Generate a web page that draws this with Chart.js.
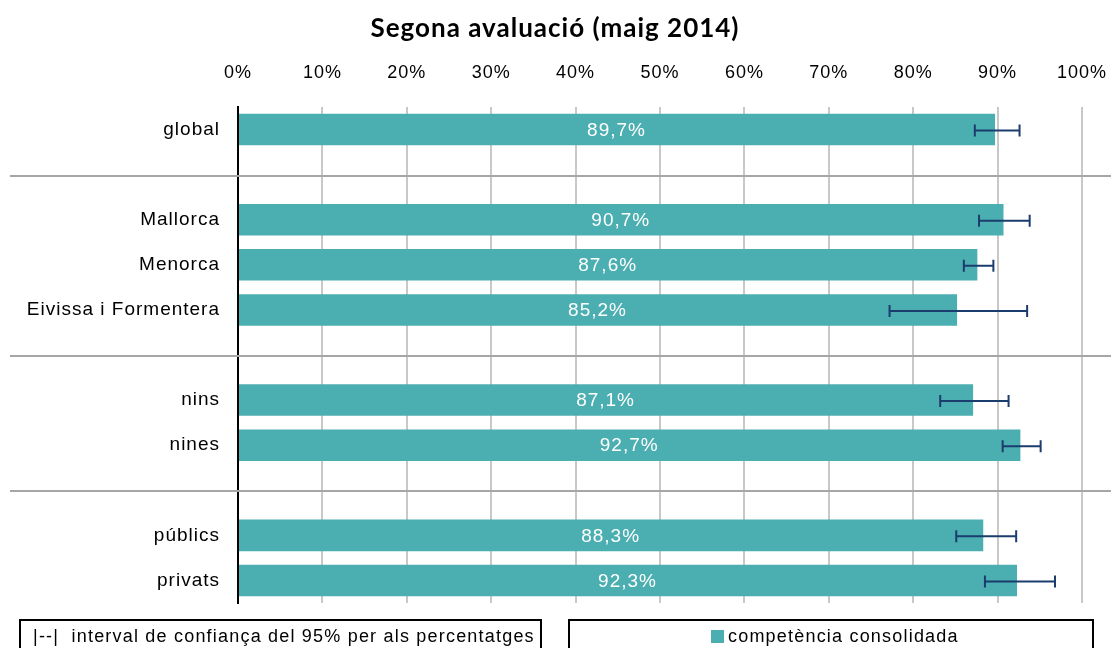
<!DOCTYPE html>
<html><head><meta charset="utf-8">
<script src="https://cdn.jsdelivr.net/npm/chart.js@4/dist/chart.umd.min.js"></script>
<style>html,body{margin:0;padding:0;background:#fff;} canvas{display:block;}</style>
</head><body>
<canvas id="c" width="1113" height="648"></canvas>
<script>
const titleText = 'Segona avaluació (maig 2014)';
const categories = ['global', '', 'Mallorca', 'Menorca', 'Eivissa i Formentera', '', 'nins', 'nines', '', 'públics', 'privats'];
const values = [89.7, null, 90.7, 87.6, 85.2, null, 87.1, 92.7, null, 88.3, 92.3];
const ciLow  = [87.3, null, 87.8, 86.0, 77.2, null, 83.2, 90.6, null, 85.1, 88.5];
const ciHigh = [92.6, null, 93.8, 89.5, 93.5, null, 91.3, 95.1, null, 92.2, 96.8];
const seriesName = 'competència consolidada';
const ciLegend = '|--|  interval de confiança del 95% per als percentatges';

const BAR = '#4BAEB0';
const ERR = '#1B3D6E';
const FONT = '"Liberation Sans", Arial, sans-serif';

const fmt = v => v.toFixed(1).replace('.', ',') + '%';

const spacing = {
  id: 'spacing',
  beforeUpdate(chart) { chart.ctx.letterSpacing = '1px'; },
  beforeDraw(chart) { chart.ctx.letterSpacing = '1px'; }
};

const extras = {
  id: 'extras',
  afterDatasetsDraw(chart) {
    const ctx = chart.ctx;
    const xs = chart.scales.x, ys = chart.scales.y;
    ctx.save();
    ctx.letterSpacing = '1px';
    // title
    ctx.fillStyle = '#000';
    ctx.font = 'bold 26px Lato, "Open Sans", sans-serif';
    ctx.textAlign = 'center';
    ctx.textBaseline = 'middle';
    ctx.fillText(titleText, 555, 29);
    // separators between groups
    ctx.strokeStyle = '#A6A6A6';
    ctx.lineWidth = 2;
    categories.forEach((c, i) => {
      if (c === '') {
        const y = Math.round(ys.getPixelForValue(i)) + 1;
        ctx.beginPath(); ctx.moveTo(10, y); ctx.lineTo(1111, y); ctx.stroke();
      }
    });
    // value labels
    ctx.fillStyle = '#FFFFFF';
    ctx.font = '19px ' + FONT;
    ctx.textAlign = 'center';
    ctx.textBaseline = 'middle';
    values.forEach((v, i) => {
      if (v == null) return;
      const x0 = xs.getPixelForValue(0), x1 = xs.getPixelForValue(v);
      ctx.fillText(fmt(v), (x0 + x1) / 2, ys.getPixelForValue(i) + 1);
    });
    // error bars
    ctx.strokeStyle = ERR;
    ctx.lineWidth = 2;
    values.forEach((v, i) => {
      if (v == null) return;
      const y = ys.getPixelForValue(i) + 1;
      const a = xs.getPixelForValue(ciLow[i]), b = xs.getPixelForValue(ciHigh[i]);
      ctx.beginPath();
      ctx.moveTo(a, y); ctx.lineTo(b, y);
      ctx.moveTo(a, y - 6); ctx.lineTo(a, y + 6);
      ctx.moveTo(b, y - 6); ctx.lineTo(b, y + 6);
      ctx.stroke();
    });
    // legend boxes
    ctx.strokeStyle = '#000';
    ctx.lineWidth = 2;
    ctx.strokeRect(20, 620, 521, 40);
    ctx.strokeRect(569, 620, 524, 40);
    ctx.fillStyle = '#000';
    ctx.font = '18px ' + FONT;
    ctx.textAlign = 'left';
    ctx.textBaseline = 'middle';
    ctx.letterSpacing = '1.2px';
    ctx.fillText(ciLegend, 33, 637);
    ctx.fillStyle = BAR;
    ctx.fillRect(711, 630, 13, 13);
    ctx.fillStyle = '#000';
    ctx.fillText(seriesName, 728, 637);
    ctx.restore();
  }
};

new Chart(document.getElementById('c'), {
  type: 'bar',
  data: {
    labels: categories,
    datasets: [{
      label: seriesName,
      data: values,
      backgroundColor: BAR,
      borderWidth: 0,
      categoryPercentage: 0.7,
      barPercentage: 1.0
    }]
  },
  options: {
    indexAxis: 'y',
    responsive: false,
    animation: false,
    devicePixelRatio: 1,
    layout: { padding: { left: 0, right: 31, top: 0, bottom: 45 } },
    plugins: {
      legend: { display: false },
      tooltip: { enabled: false },
      title: { display: false }
    },
    scales: {
      x: {
        position: 'top',
        min: 0, max: 100,
        afterFit: s => {
          s.height = 107;
          s.paddingLeft = 0; s.paddingRight = 0;
        },
        ticks: {
          stepSize: 10,
          padding: 23,
          color: '#000',
          font: { family: FONT, size: 18 },
          callback: v => v + '%'
        },
        grid: { color: '#C8C8C8', lineWidth: 2, drawTicks: false },
        border: { display: false }
      },
      y: {
        afterFit: s => { s.width = 238; s.paddingTop = 0; s.paddingBottom = 0; },
        ticks: {
          padding: 18,
          color: '#000',
          font: { family: FONT, size: 19 },
          autoSkip: false
        },
        grid: { display: false, drawTicks: false },
        border: { display: true, color: '#000', width: 2 }
      }
    }
  },
  plugins: [spacing, extras]
});
</script></body></html>
